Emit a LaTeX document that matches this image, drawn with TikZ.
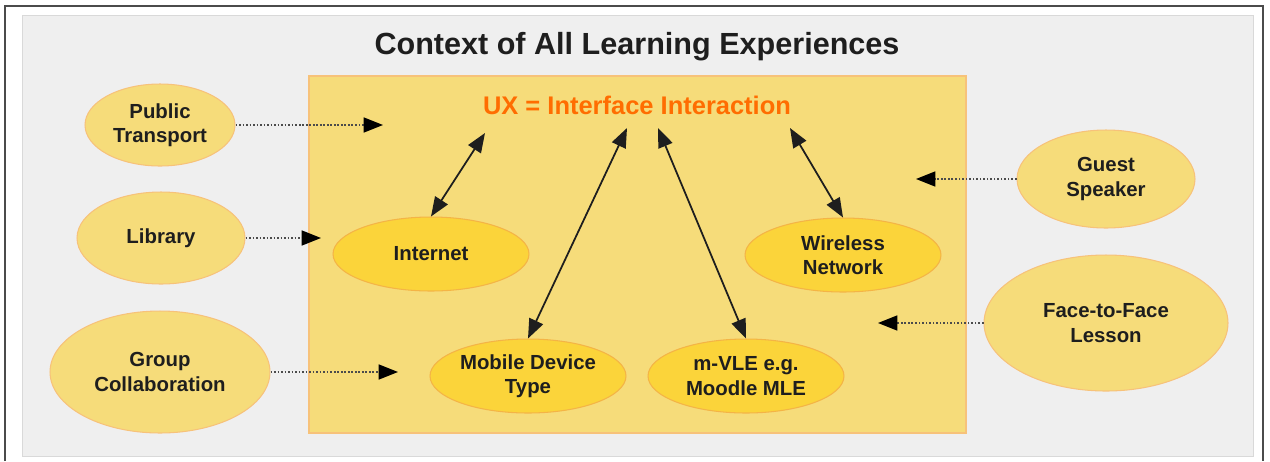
\documentclass[tikz,border=0pt]{standalone}
\usepackage{fontspec}
\setmainfont{Liberation Sans}
\usetikzlibrary{arrows.meta,shapes.geometric}

\definecolor{panel}{HTML}{EFEFEF}
\definecolor{sand}{HTML}{F6DC7A}
\definecolor{sandline}{HTML}{F7C27A}
\definecolor{gold}{HTML}{FBD43A}
\definecolor{goldline}{HTML}{F4B446}
\definecolor{uxorange}{HTML}{FF6D01}
\definecolor{ink}{HTML}{1E1E1E}

\begin{document}
\begin{tikzpicture}[x=0.02cm,y=-0.02cm,
  ctx/.style={ellipse,draw=sandline,fill=sand,line width=.6pt,inner sep=0pt,
    text=ink,align=center,font=\bfseries\fontsize{11.6}{13.8}\selectfont},
  tool/.style={ctx,draw=goldline,fill=gold,minimum width=3.92cm,minimum height=1.48cm},
  feed/.style={draw=ink!80,line width=1pt,dash pattern=on 1pt off 1pt,
    -{Triangle[length=11pt,width=8.5pt,color=black]}},
  link/.style={draw=ink,line width=1pt,
    {Triangle[length=11pt,width=8.5pt]}-{Triangle[length=11pt,width=8.5pt]}}]

\useasboundingbox (0,0) rectangle (1270,461);
\draw[ink!80,line width=.6pt] (5,461) |- (1263,6) -- (1263,461);
\draw[fill=panel,draw=black!15] (22,15) rectangle (1253,456);

\node[font=\bfseries\fontsize{17.4}{20}\selectfont,text=ink] (title) at (637,47) {Context of All Learning Experiences};
\draw[fill=sand,draw=sandline,line width=.6pt] (309,76) rectangle (966,433);
\node[font=\bfseries\fontsize{14.5}{17}\selectfont,text=uxorange] (ux) at (637,105) {UX = Interface Interaction};

% context around the box
\node[ctx,minimum width=3cm,minimum height=1.64cm] (pt) at (160,125) {Public\\Transport};
\node[ctx,minimum width=3.36cm,minimum height=1.84cm] (lib) at (161,238) {Library};
\node[ctx,minimum width=4.4cm,minimum height=2.44cm] (grp) at (160,372) {Group\\Collaboration};
\node[ctx,minimum width=3.56cm,minimum height=1.96cm] (gst) at (1106,179) {Guest\\Speaker};
\node[ctx,minimum width=4.88cm,minimum height=2.72cm] (f2f) at (1106,323) {Face-to-Face\\Lesson};

% what the learner works through
\node[tool] (inet) at (431,254) {Internet};
\node[tool] (wlan) at (843,255) {Wireless\\Network};
\node[tool] (mob) at (528,376) {Mobile Device\\Type};
\node[tool] (mvle) at (746,376) {m-VLE e.g.\\Moodle MLE};

\coordinate (ptE) at (383,125);
\coordinate (libE) at (321,238);
\coordinate (grpE) at (398,372);
\coordinate (gstE) at (916,179);
\coordinate (f2fE) at (878,323);

\coordinate (uxA) at (485,133);
\coordinate (uxB) at (627,128);
\coordinate (uxC) at (658,128);
\coordinate (uxD) at (790,128);

\draw[feed] (pt) -- (ptE);
\draw[feed] (lib) -- (libE);
\draw[feed] (grp) -- (grpE);
\draw[feed] (gst) -- (gstE);
\draw[feed] (f2f) -- (f2fE);

\draw[link] (uxA) -- (inet.north);
\draw[link] (uxB) -- (mob.north);
\draw[link] (uxC) -- (mvle.north);
\draw[link] (uxD) -- (wlan.north);
\end{tikzpicture}
\end{document}
